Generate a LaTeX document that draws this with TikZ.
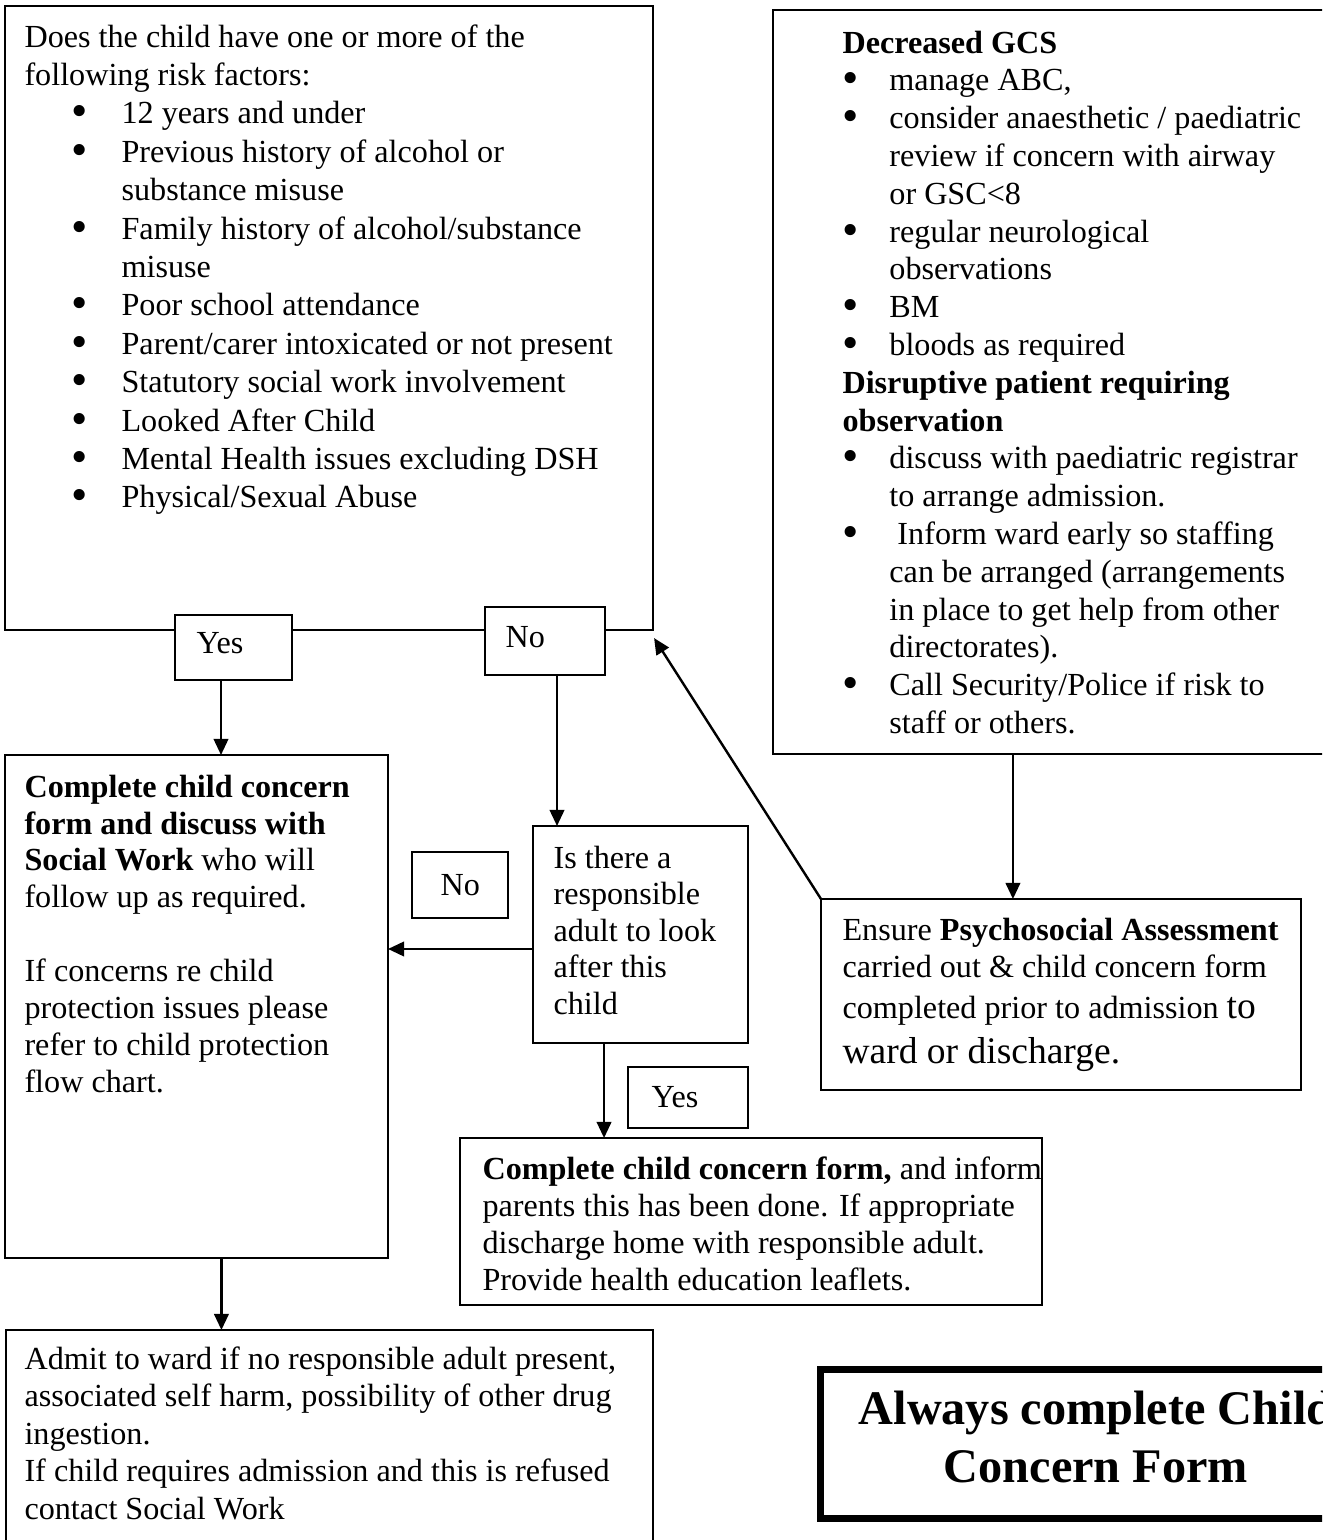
\documentclass[tikz,border=0pt]{standalone}
\usepackage{fontspec}
\setmainfont{Liberation Serif}
\usetikzlibrary{arrows.meta,fit,calc}
\newcommand\dotb{\raisebox{-1.1pt}{\scalebox{1.45}{\textbullet}}}
\newcommand\rbul{\hspace*{17.6pt}\makebox[18.6pt][l]{\dotb}}
\newcommand\rind{\hspace*{36.2pt}}
\newcommand\gbul{\makebox[17.5pt][l]{\dotb}}
\newcommand\gind{\hspace*{17.5pt}}
\newcommand\fst{\rule{0pt}{10.3pt}}
\begin{document}
\begin{tikzpicture}[x=0.373pt,y=-0.373pt,
  every node/.style={font=\fontsize{12}{14}\selectfont},
  box/.style={draw, line width=0.8pt, inner sep=0pt, outer sep=0pt},
  lbl/.style={box, fill=white},
  txt/.style={anchor=north west, inner sep=0pt, align=left},
  one/.style={anchor=base west, inner sep=0pt},
  arr/.style={line width=0.9pt, -{Triangle[length=6pt,width=5.4pt]}}]
\useasboundingbox (0,0) rectangle (1322,1540);
\clip (0,0) rectangle (1322,1540);

% boxes
\node[box, fit={(5,6)(653,630)}] (risk) {};
\node[box, fit={(773,10)(1345,754)}] (gcs) {};
\node[box, fit={(5,755)(388,1258)}] (compl) {};
\node[box, fit={(533,826)(748,1043)}] (isthere) {};
\node[box, fit={(821,899)(1301,1090)}] (ensure) {};
\node[box, fit={(460,1138)(1042,1305)}] (form) {};
\node[box, fit={(6,1330)(653,1560)}] (admit) {};
\node[draw, line width=2.6pt, inner sep=0pt, outer sep=0pt, fit={(820.5,1369.5)(1400,1518.5)}] (always) {};

% label boxes
\node[lbl, fit={(175,615)(292,680)}] (yesT) {};
\node[lbl, fit={(485,607)(605,675)}] (noT) {};
\node[lbl, fit={(412,852)(508,918)}] (noM) {};
\node[lbl, fit={(628,1067)(748,1128)}] (yesB) {};

% label texts
\node[one] (tyesT) at (196,653) {Yes};
\node[one] (tnoT) at (505,647) {No};
\node[one] (tnoM) at (440,895) {No};
\node[one] (tyesB) at (651,1107) {Yes};

% texts
\node[txt, font=\fontsize{12}{14.32}\selectfont] (trisk) at (24,19) {\fst Does the child have one or more of the\\
following risk factors:\\
\rbul 12 years and under\\
\rbul Previous history of alcohol or\\
\rind substance misuse\\
\rbul Family history of alcohol/substance\\
\rind misuse\\
\rbul Poor school attendance\\
\rbul Parent/carer intoxicated or not present\\
\rbul Statutory social work involvement\\
\rbul Looked After Child\\
\rbul Mental Health issues excluding DSH\\
\rbul Physical/Sexual Abuse};

\node[txt, font=\fontsize{12}{14.1}\selectfont] (tgcs) at (842,25) {\fst\textbf{Decreased GCS}\\
\gbul manage ABC,\\
\gbul consider anaesthetic / paediatric\\
\gind review if concern with airway\\
\gind or GSC<8\\
\gbul regular neurological\\
\gind observations\\
\gbul BM\\
\gbul bloods as required\\
\textbf{Disruptive patient requiring}\\
\textbf{observation}\\
\gbul discuss with paediatric registrar\\
\gind to arrange admission.\\
\gbul\ Inform ward early so staffing\\
\gind can be arranged (arrangements\\
\gind in place to get help from other\\
\gind directorates).\\
\gbul Call Security/Police if risk to\\
\gind staff or others.};

\node[txt, font=\fontsize{12}{13.76}\selectfont] (tcompl) at (24,769) {\fst\textbf{Complete child concern}\\
\textbf{form and discuss with}\\
\textbf{Social Work} who will\\
follow up as required.\\
\mbox{}\\
If concerns re child\\
protection issues please\\
refer to child protection\\
flow chart.};

\node[txt, font=\fontsize{12}{13.6}\selectfont] (tisthere) at (553,840) {\fst Is there a\\
responsible\\
adult to look\\
after this\\
child};

\node[one] (te1) at (842,940) {Ensure \textbf{Psychosocial Assessment}};
\node[one] (te2) at (842,977) {carried out \& child concern form};
\node[one] (te3) at (842,1018) {completed prior to admission {\fontsize{14}{16}\selectfont to}};
\node[one, font=\fontsize{14}{16}\selectfont] (te4) at (842,1063) {ward or discharge.};

\node[txt, font=\fontsize{12}{13.8}\selectfont] (tform) at (482,1151) {\fst\textbf{Complete child concern form,} and inform\\
parents this has been done. If appropriate\\
discharge home with responsible adult.\\
Provide health education leaflets.};

\node[txt, font=\fontsize{12}{14}\selectfont] (tadmit) at (24,1341) {\fst Admit to ward if no responsible adult present,\\
associated self harm, possibility of other drug\\
ingestion.\\
If child requires admission and this is refused\\
contact Social Work};

\node[anchor=north, inner sep=0pt, align=center, font=\fontsize{18}{21.5}\selectfont\bfseries] (talways) at (1096,1389) {\rule{0pt}{13pt}Always complete Child\\Concern Form};

% connectors
\draw[arr] ([xshift=-4.66pt]yesT.south) -- ([xshift=-4.66pt]yesT.south |- compl.north);
\draw[arr] ([xshift=4.48pt]noT.south) -- ([xshift=4.48pt]noT.south |- isthere.north);
\draw[arr] ([yshift=-5.4pt]isthere.west) -- ([yshift=-5.4pt]isthere.west -| compl.east);
\draw[arr] ([xshift=-13.6pt]isthere.south) -- ([xshift=-13.6pt]isthere.south |- form.north);
\draw[arr] ([xshift=89.5pt]gcs.south west) -- ([xshift=89.5pt]gcs.south west |- ensure.north);
\draw[arr] (ensure.north west) -- ([xshift=0.4pt,yshift=-3pt]risk.south east);
\draw[arr] ([xshift=9.3pt]compl.south) -- ([xshift=9.3pt]compl.south |- admit.north);
\end{tikzpicture}
\end{document}
